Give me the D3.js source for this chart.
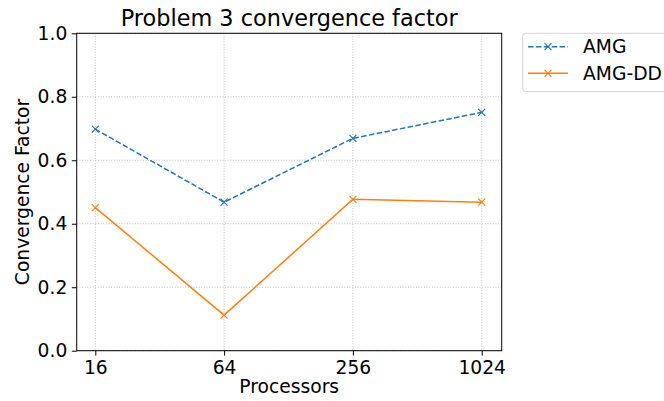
<!DOCTYPE html>
<html><head><meta charset="utf-8">
<script src="https://cdn.jsdelivr.net/npm/d3@7"></script>
<style>body{margin:0;background:#fff}svg{display:block;font-family:"DejaVu Sans",sans-serif}</style>
</head><body>
<script>
const categories = ["16","64","256","1024"];
const amg = [0.698, 0.468, 0.669, 0.751];
const amgdd = [0.451, 0.112, 0.477, 0.468];
const yTicks = [0.0,0.2,0.4,0.6,0.8,1.0];
const seriesNames = ["AMG","AMG-DD"];
const colors = ["#1f77b4","#ff7f0e"];

const W=664,H=401;
const L=76.7,R=501.7,T=33.3,B=350.7;
const FS=18.7;
const svg=d3.select("body").append("svg").attr("width",W).attr("height",H);
const x=d3.scalePoint().domain(categories).range([95.3,481.7]);
const y=d3.scaleLinear().domain([0,1]).range([B,T]);

// grid
const g=svg.append("g");
g.selectAll(".gx").data(categories).enter().append("line")
 .attr("x1",d=>x(d)).attr("x2",d=>x(d)).attr("y1",T).attr("y2",B)
 .attr("stroke","#b0b0b0").attr("stroke-width",0.8).attr("stroke-dasharray","1,1.65");
g.selectAll(".gy").data(yTicks).enter().append("line")
 .attr("x1",L).attr("x2",R).attr("y1",d=>y(d)).attr("y2",d=>y(d))
 .attr("stroke","#b0b0b0").attr("stroke-width",0.8).attr("stroke-dasharray","1,1.65");

// axes
const xa=svg.append("g").attr("transform",`translate(0,${B})`)
 .call(d3.axisBottom(x).tickSize(4.9).tickPadding(4.5));
const ya=svg.append("g").attr("transform",`translate(${L},0)`)
 .call(d3.axisLeft(y).tickValues(yTicks).tickFormat(d3.format(".1f")).tickSize(4.9).tickPadding(4.5));
[xa,ya].forEach(a=>{a.select(".domain").remove();a.selectAll("text").attr("font-size",FS).attr("fill","#000").attr("font-family","DejaVu Sans");a.selectAll("line").attr("stroke","#000").attr("stroke-width",1);});
xa.selectAll("text").attr("dy","0.76em");

svg.append("rect").attr("x",L).attr("y",T).attr("width",R-L).attr("height",B-T)
 .attr("fill","none").attr("stroke","#000").attr("stroke-width",1);

// series
const line=d3.line().x((d,i)=>x(categories[i])).y(d=>y(d));
const data=[amg,amgdd];
data.forEach((vals,k)=>{
 svg.append("path").datum(vals).attr("d",line).attr("fill","none")
  .attr("stroke",colors[k]).attr("stroke-width",1.5)
  .attr("stroke-dasharray",k===0?"5.5,2.4":null);
 svg.selectAll(null).data(vals).enter().append("path")
  .attr("transform",(d,i)=>`translate(${x(categories[i])},${y(d)})`)
  .attr("d","M-3.5,-3.5L3.5,3.5M-3.5,3.5L3.5,-3.5")
  .attr("stroke",colors[k]).attr("stroke-width",1.2).attr("fill","none");
});

// title & labels
svg.append("text").attr("x",(L+R)/2).attr("y",26).attr("text-anchor","middle")
 .attr("font-size",22.4).text("Problem 3 convergence factor");
svg.append("text").attr("x",(L+R)/2).attr("y",393).attr("text-anchor","middle")
 .attr("font-size",FS).text("Processors");
svg.append("text").attr("transform",`translate(28.5,${(T+B)/2}) rotate(-90)`).attr("text-anchor","middle")
 .attr("font-size",FS).text("Convergence Factor");

// legend
const lg=svg.append("g");
lg.append("rect").attr("x",522.7).attr("y",33.3).attr("width",160).attr("height",58.4).attr("rx",3)
 .attr("fill","#fff").attr("stroke","#d0d0d0").attr("stroke-width",1);
seriesNames.forEach((n,k)=>{
 const yy=k===0?46.7:73.3;
 lg.append("line").attr("x1",528).attr("x2",568).attr("y1",yy).attr("y2",yy)
  .attr("stroke",colors[k]).attr("stroke-width",1.5).attr("stroke-dasharray",k===0?"5.5,2.4":null);
 lg.append("path").attr("transform",`translate(548,${yy})`).attr("d","M-3.5,-3.5L3.5,3.5M-3.5,3.5L3.5,-3.5")
  .attr("stroke",colors[k]).attr("stroke-width",1.2);
 lg.append("text").attr("x",583).attr("y",yy).attr("dy","0.36em").attr("font-size",FS).text(n);
});
</script>
</body></html>
